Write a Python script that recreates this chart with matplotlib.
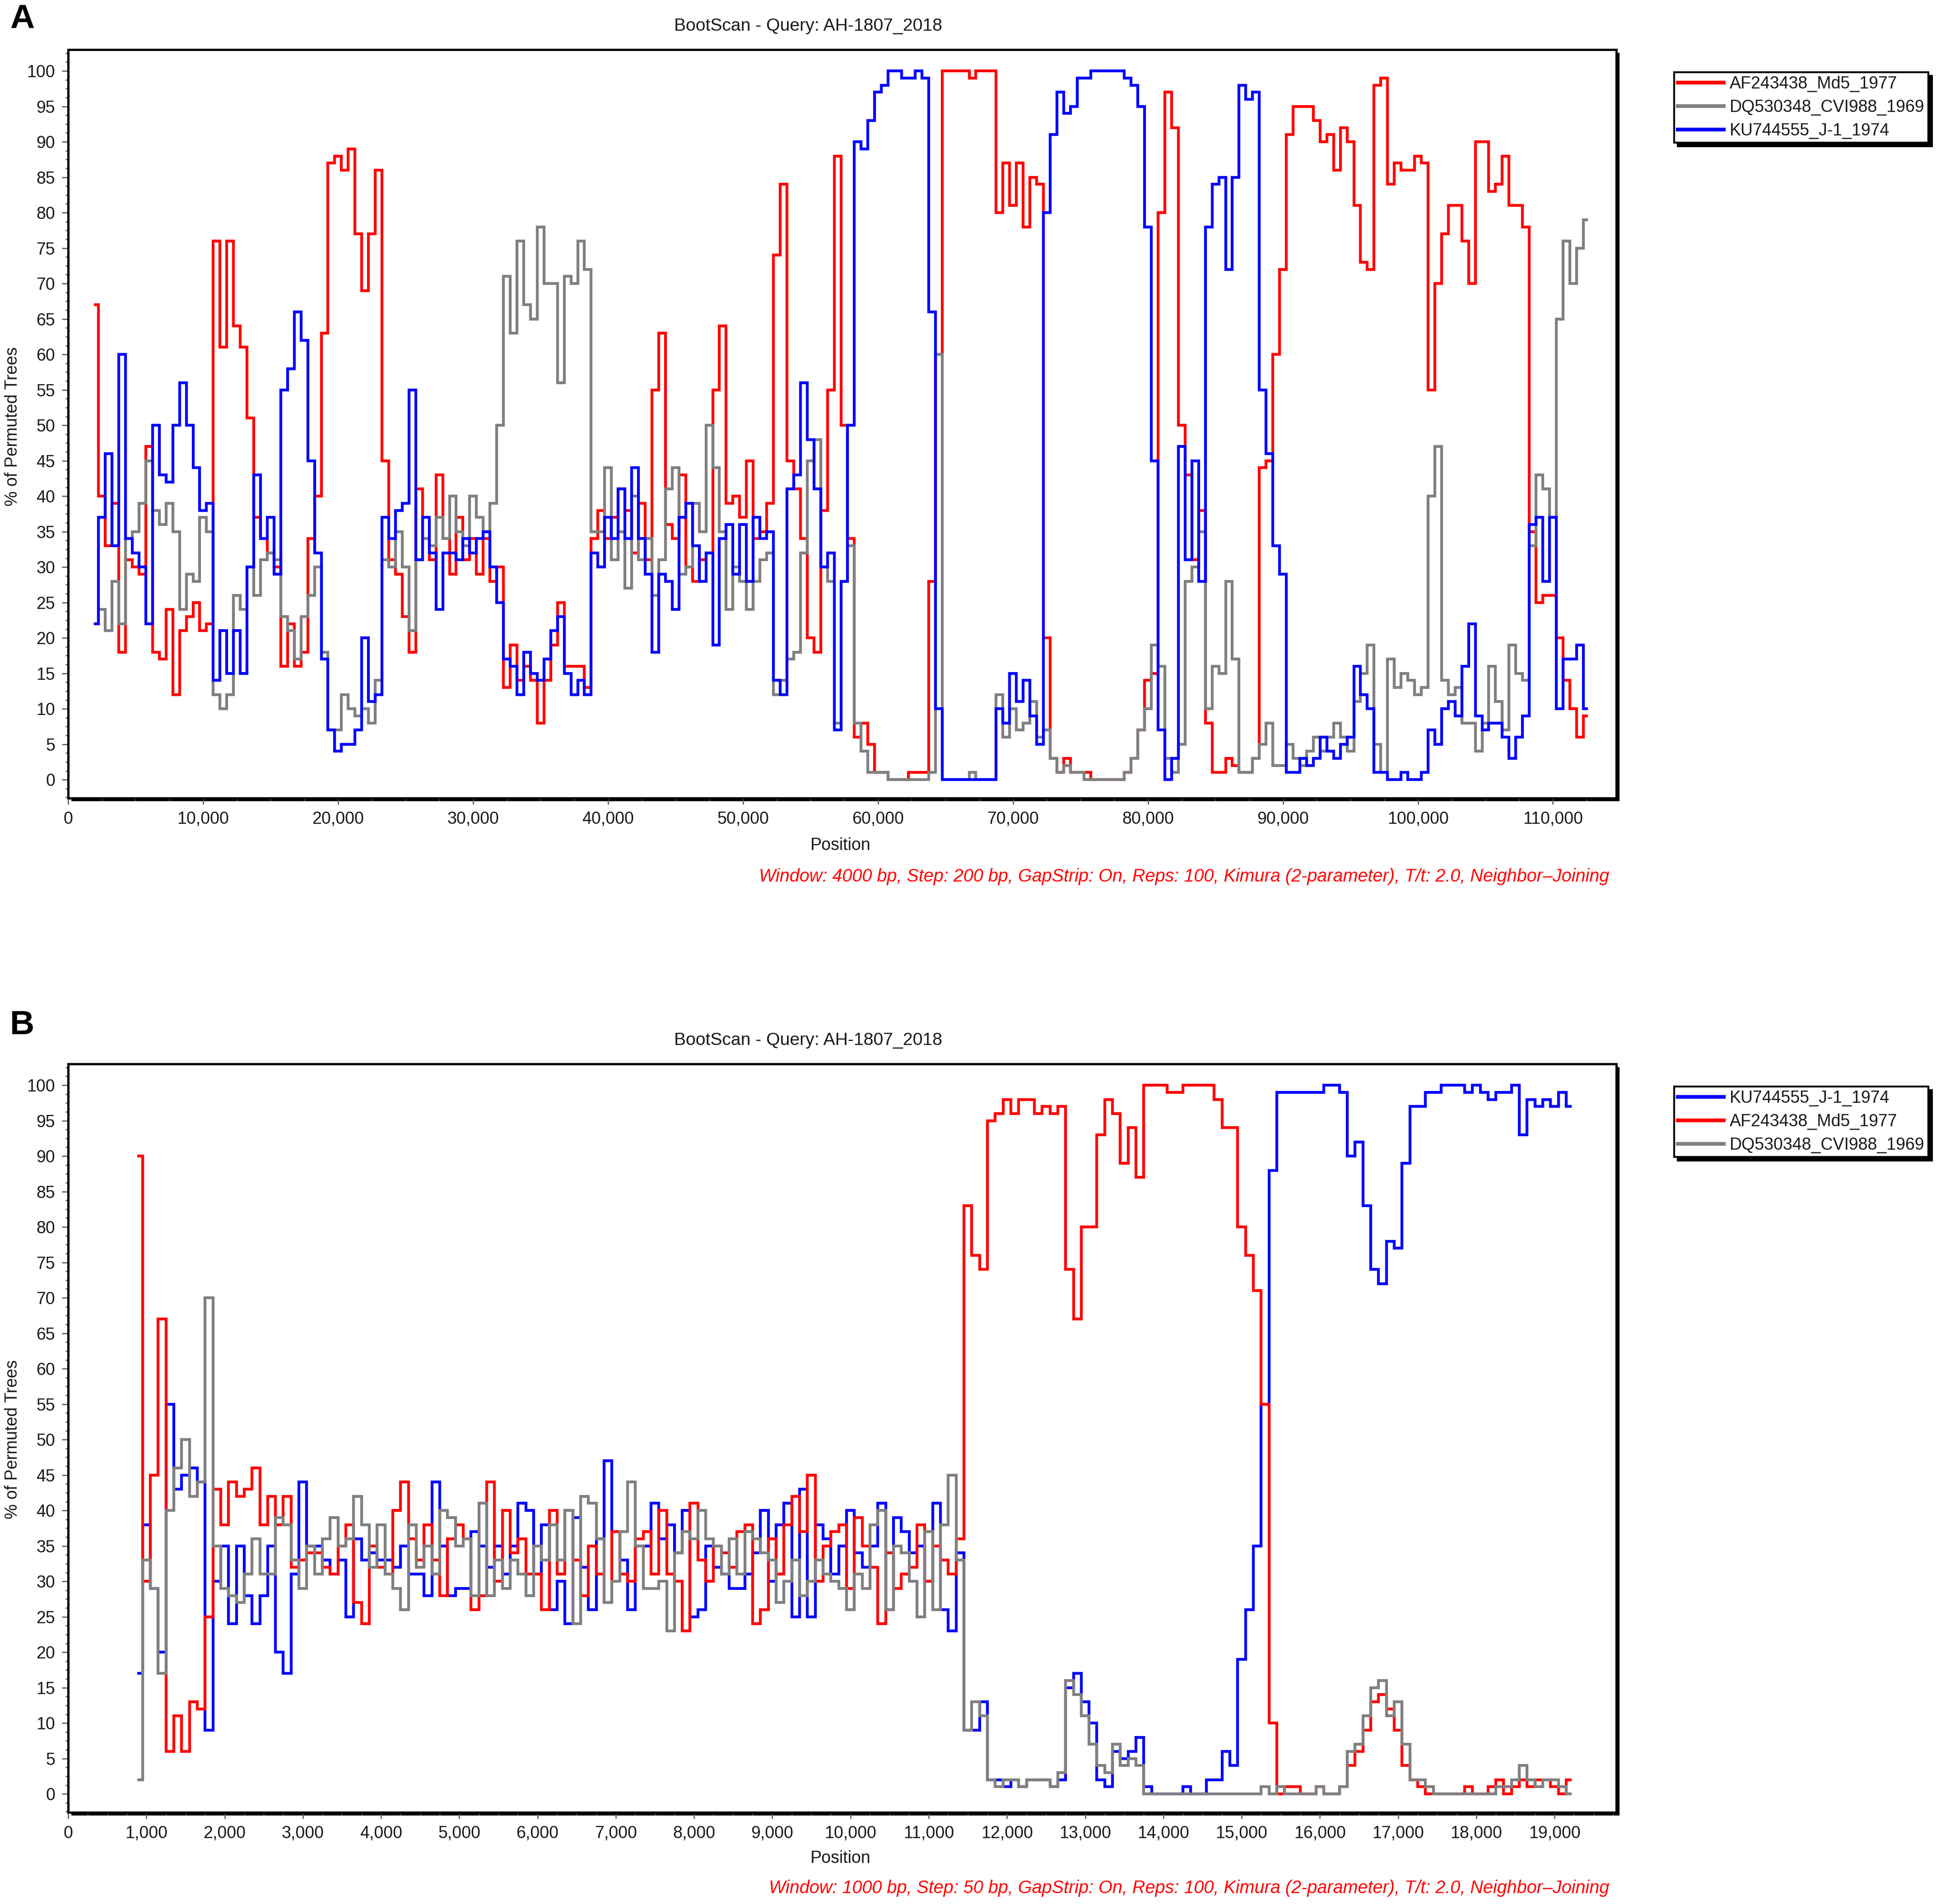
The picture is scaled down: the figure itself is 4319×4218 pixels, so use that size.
import numpy as np
import matplotlib
matplotlib.use("Agg")
import matplotlib.pyplot as plt
from matplotlib.ticker import MultipleLocator, FuncFormatter
from matplotlib.patches import Rectangle

plt.rcParams['font.family'] = ['Liberation Sans', 'DejaVu Sans']

# ---------------- Panel A data (window 4000 bp, positions every 500 bp from 2,000) ----------------
A_START, A_STEP = 2000, 500
a_red = [
    67, 40, 33, 39, 18, 31, 30, 29, 47, 18,
    17, 24, 12, 21, 23, 25, 21, 22, 76, 61,
    76, 64, 61, 51, 37, 34, 32, 30, 16, 22,
    16, 18, 34, 40, 63, 87, 88, 86, 89, 77,
    69, 77, 86, 45, 31, 29, 23, 18, 41, 34,
    31, 43, 34, 29, 37, 31, 34, 29, 34, 28,
    30, 13, 19, 14, 16, 14, 8, 14, 19, 25,
    16, 16, 16, 13, 34, 38, 34, 37, 41, 38,
    32, 39, 31, 55, 63, 36, 34, 43, 30, 28,
    31, 32, 55, 64, 39, 40, 37, 45, 34, 35,
    39, 74, 84, 45, 41, 34, 20, 18, 38, 55,
    88, 50, 34, 6, 8, 5, 1, 1, 0, 0,
    0, 1, 1, 1, 28, 60, 100, 100, 100, 100,
    99, 100, 100, 100, 80, 87, 81, 87, 78, 85,
    84, 20, 3, 1, 3, 1, 1, 1, 0, 0,
    0, 0, 0, 1, 3, 7, 14, 15, 80, 97,
    92, 50, 43, 31, 38, 8, 1, 1, 3, 2,
    1, 1, 3, 44, 45, 60, 72, 91, 95, 95,
    95, 93, 90, 91, 86, 92, 90, 81, 73, 72,
    98, 99, 84, 87, 86, 86, 88, 87, 55, 70,
    77, 81, 81, 76, 70, 90, 90, 83, 84, 88,
    81, 81, 78, 35, 25, 26, 26, 20, 14, 10,
    6, 9,
]
a_blue = [
    22, 37, 46, 33, 60, 34, 32, 30, 22, 50,
    43, 42, 50, 56, 50, 44, 38, 39, 14, 21,
    15, 21, 15, 30, 43, 34, 37, 29, 55, 58,
    66, 62, 45, 32, 17, 7, 4, 5, 5, 7,
    20, 11, 12, 37, 34, 38, 39, 55, 31, 37,
    32, 24, 32, 32, 31, 34, 32, 34, 35, 30,
    25, 17, 16, 12, 18, 15, 14, 17, 21, 23,
    15, 12, 14, 12, 32, 30, 37, 34, 41, 34,
    44, 34, 29, 18, 29, 28, 24, 37, 39, 33,
    28, 32, 19, 34, 36, 29, 36, 28, 37, 34,
    35, 14, 12, 41, 43, 56, 48, 41, 30, 32,
    7, 28, 50, 90, 89, 93, 97, 98, 100, 100,
    99, 99, 100, 99, 66, 10, 0, 0, 0, 0,
    0, 0, 0, 0, 10, 8, 15, 11, 14, 9,
    5, 80, 91, 97, 94, 95, 99, 99, 100, 100,
    100, 100, 100, 99, 98, 95, 78, 45, 7, 0,
    3, 47, 31, 45, 28, 78, 84, 85, 72, 85,
    98, 96, 97, 55, 46, 33, 29, 1, 1, 3,
    2, 3, 6, 4, 3, 5, 6, 16, 12, 10,
    1, 1, 0, 0, 1, 0, 0, 1, 7, 5,
    10, 11, 9, 16, 22, 9, 7, 8, 8, 6,
    3, 6, 9, 36, 37, 28, 37, 10, 17, 17,
    19, 10,
]
a_grey = [
    22, 24, 21, 28, 22, 34, 35, 39, 45, 38,
    36, 39, 35, 24, 29, 28, 37, 35, 12, 10,
    12, 26, 24, 30, 26, 31, 32, 31, 23, 21,
    17, 23, 26, 30, 18, 7, 7, 12, 10, 9,
    10, 8, 14, 31, 30, 35, 30, 21, 31, 34,
    33, 37, 34, 40, 35, 33, 40, 37, 35, 39,
    50, 71, 63, 76, 67, 65, 78, 70, 70, 56,
    71, 70, 76, 72, 35, 35, 44, 31, 35, 27,
    40, 31, 34, 26, 31, 41, 44, 29, 30, 39,
    35, 50, 44, 35, 24, 30, 28, 24, 28, 31,
    32, 12, 14, 17, 18, 32, 45, 48, 30, 28,
    8, 28, 33, 8, 4, 1, 1, 1, 0, 0,
    0, 0, 0, 0, 1, 60, 0, 0, 0, 0,
    1, 0, 0, 0, 12, 6, 10, 7, 8, 11,
    6, 7, 3, 1, 2, 1, 1, 0, 0, 0,
    0, 0, 0, 1, 3, 7, 10, 19, 16, 3,
    1, 5, 28, 30, 35, 10, 16, 15, 28, 17,
    1, 1, 3, 5, 8, 2, 2, 5, 3, 2,
    4, 6, 4, 6, 8, 6, 4, 11, 15, 19,
    5, 1, 17, 13, 15, 14, 12, 13, 40, 47,
    14, 12, 13, 8, 8, 4, 8, 16, 11, 7,
    19, 15, 14, 33, 43, 41, 37, 65, 76, 70,
    75, 79,
]

# ---------------- Panel B data (window 1000 bp, positions every 100 bp from 900) ----------------
B_START, B_STEP = 900, 100
b_red = [
    90, 30, 45, 67, 6, 11, 6, 13, 12, 25,
    43, 38, 44, 42, 43, 46, 38, 42, 38, 42,
    32, 33, 34, 34, 32, 31, 35, 38, 27, 24,
    35, 32, 31, 40, 44, 36, 33, 38, 33, 28,
    36, 38, 36, 26, 28, 44, 30, 40, 34, 36,
    31, 31, 26, 40, 31, 40, 33, 28, 35, 31,
    27, 37, 31, 30, 36, 37, 31, 40, 31, 30,
    23, 41, 33, 30, 35, 34, 32, 37, 38, 24,
    26, 36, 31, 38, 42, 37, 45, 30, 35, 37,
    38, 29, 39, 35, 32, 24, 34, 29, 31, 32,
    38, 30, 35, 33, 31, 36, 83, 76, 74, 95,
    96, 98, 96, 98, 98, 96, 97, 96, 97, 74,
    67, 80, 80, 93, 98, 96, 89, 94, 87, 100,
    100, 100, 99, 99, 100, 100, 100, 100, 98, 94,
    94, 80, 76, 71, 55, 10, 0, 1, 1, 0,
    0, 1, 0, 0, 1, 4, 6, 9, 13, 14,
    12, 9, 4, 2, 1, 0, 0, 0, 0, 0,
    1, 0, 0, 1, 2, 0, 1, 2, 1, 2,
    2, 1, 0, 2,
]
b_blue = [
    17, 38, 29, 20, 55, 43, 45, 46, 44, 9,
    30, 35, 24, 35, 28, 24, 28, 35, 20, 17,
    31, 44, 35, 35, 33, 31, 33, 25, 36, 33,
    34, 33, 33, 32, 35, 31, 31, 28, 44, 35,
    28, 29, 29, 37, 35, 32, 35, 31, 35, 41,
    40, 31, 38, 26, 30, 24, 39, 32, 26, 36,
    47, 37, 33, 26, 35, 35, 41, 36, 38, 34,
    40, 25, 26, 35, 32, 31, 29, 29, 31, 34,
    40, 30, 38, 41, 25, 43, 25, 38, 36, 31,
    35, 40, 34, 32, 35, 41, 26, 39, 37, 34,
    35, 30, 41, 26, 23, 34, 9, 9, 13, 2,
    2, 1, 2, 1, 2, 2, 2, 1, 2, 15,
    17, 13, 10, 2, 1, 6, 5, 6, 8, 1,
    0, 0, 0, 0, 1, 0, 0, 2, 2, 6,
    4, 19, 26, 35, 55, 88, 99, 99, 99, 99,
    99, 99, 100, 100, 99, 90, 92, 83, 74, 72,
    78, 77, 89, 97, 97, 99, 99, 100, 100, 100,
    99, 100, 99, 98, 99, 99, 100, 93, 98, 97,
    98, 97, 99, 97,
]
b_grey = [
    2, 33, 29, 17, 40, 46, 50, 42, 44, 70,
    35, 29, 28, 27, 31, 36, 31, 31, 39, 38,
    33, 29, 35, 31, 36, 39, 35, 36, 42, 38,
    32, 38, 31, 29, 26, 38, 32, 35, 31, 40,
    39, 35, 36, 28, 41, 28, 33, 29, 33, 31,
    28, 35, 33, 38, 33, 40, 24, 42, 41, 36,
    27, 30, 37, 44, 35, 29, 29, 30, 23, 34,
    37, 36, 40, 36, 35, 31, 36, 31, 37, 36,
    34, 33, 27, 30, 33, 28, 30, 33, 31, 30,
    29, 26, 31, 29, 38, 40, 26, 35, 34, 30,
    25, 37, 26, 38, 45, 33, 9, 13, 11, 2,
    1, 2, 2, 1, 2, 2, 2, 1, 3, 16,
    14, 11, 7, 4, 3, 7, 4, 5, 4, 0,
    0, 0, 0, 0, 0, 0, 0, 0, 0, 0,
    0, 0, 0, 0, 1, 0, 1, 0, 0, 0,
    0, 1, 0, 0, 1, 6, 7, 11, 15, 16,
    11, 13, 7, 2, 2, 1, 0, 0, 0, 0,
    0, 0, 0, 0, 1, 1, 2, 4, 2, 1,
    2, 2, 1, 0,
]

NAME_MD5 = "AF243438_Md5_1977"
NAME_CVI = "DQ530348_CVI988_1969"
NAME_J1 = "KU744555_J-1_1974"
TITLE = "BootScan - Query: AH-1807_2018"
NOTE_A = "Window: 4000 bp, Step: 200 bp, GapStrip: On, Reps: 100, Kimura (2-parameter), T/t: 2.0, Neighbor\u2013Joining"
NOTE_B = "Window: 1000 bp, Step: 50 bp, GapStrip: On, Reps: 100, Kimura (2-parameter), T/t: 2.0, Neighbor\u2013Joining"

RED, GREY, BLUE = "#FF0000", "#808080", "#0000FF"

W, H = 4319, 4218
DPI = 300
fig = plt.figure(figsize=(W / DPI, H / DPI), dpi=DPI, facecolor="white")

def fx(px):
    return px / W

def fy(py):
    return 1 - py / H

FS = 9
TXT = "#1a1a1a"

def make_panel(top_px, bottom_px, xmax, xmajor, xminor, series, note, letter, letter_base_px,
               title_px, pos_px, note_px, ylab_px, legend_top_px):
    left_px, right_px = 151, 3580
    rect = [fx(left_px), fy(bottom_px), fx(right_px) - fx(left_px), fy(top_px) - fy(bottom_px)]
    # shadow behind the frame
    sh = Rectangle((rect[0] + fx(7), rect[1] - 7 / H), rect[2], rect[3],
                   transform=fig.transFigure, facecolor="black", edgecolor="none", zorder=0)
    fig.add_artist(sh)
    ax = fig.add_axes(rect, zorder=1)
    ax.set_facecolor("white")
    handles = []
    for xs, ys, color, label in series:
        ln, = ax.plot(xs, ys, color=color, lw=1.5, drawstyle="steps-mid", label=label,
                      solid_joinstyle="miter")
        handles.append(ln)
    ax.set_xlim(0, xmax)
    ax.set_ylim(-2.6, 103)
    ax.xaxis.set_major_locator(MultipleLocator(xmajor))
    ax.xaxis.set_minor_locator(MultipleLocator(xminor))
    ax.yaxis.set_major_locator(MultipleLocator(5))
    ax.yaxis.set_minor_locator(MultipleLocator(1.25))
    ax.xaxis.set_major_formatter(FuncFormatter(lambda v, p: "{:,}".format(int(round(v)))))
    ax.yaxis.set_major_formatter(FuncFormatter(lambda v, p: "%d" % int(round(v))))
    ax.tick_params(axis="both", which="major", direction="out", length=3.4, width=0.6,
                   color="#555555", labelsize=FS, labelcolor=TXT, pad=3.5)
    ax.tick_params(axis="both", which="minor", direction="out", length=1.5, width=0.6,
                   color="#555555")
    for s in ax.spines.values():
        s.set_linewidth(1.2)
        s.set_color("black")
    # texts
    fig.text(fx(1790), fy(title_px), TITLE, ha="center", va="center", fontsize=9.4, color=TXT)
    fig.text(fx(1862), fy(pos_px), "Position", ha="center", va="center", fontsize=FS, color=TXT)
    fig.text(fx(3564), fy(note_px), note, ha="right", va="center", fontsize=9.5,
             color=RED, style="italic")
    fig.text(fx(28), fy(ylab_px), "% of Permuted Trees", ha="center", va="center",
             rotation=90, fontsize=FS, color=TXT)
    fig.text(fx(22), fy(letter_base_px), letter, ha="left", va="baseline", fontsize=18,
             fontweight="bold", color="black")
    leg = fig.legend(handles=handles, loc="upper left",
                     bbox_to_anchor=(fx(3708), fy(legend_top_px)), bbox_transform=fig.transFigure,
                     fontsize=FS, frameon=True, fancybox=False, edgecolor="black",
                     shadow={"color": "black", "alpha": 1.0},
                     handlelength=2.7, handletextpad=0.35, borderpad=0.22, labelspacing=0.42,
                     borderaxespad=0)
    leg.get_frame().set_linewidth(1.0)
    for t in leg.get_texts():
        t.set_color(TXT)
    for l in leg.get_lines():
        l.set_linewidth(2.0)
    return ax

a_x = np.arange(len(a_red)) * A_STEP + A_START
b_x = np.arange(len(b_red)) * B_STEP + B_START

make_panel(110, 1768, 114700, 10000, 2500,
           [(a_x, a_red, RED, NAME_MD5), (a_x, a_grey, GREY, NAME_CVI), (a_x, a_blue, BLUE, NAME_J1)],
           NOTE_A, "A", 62, 58, 1873, 1942, 945, 160)

make_panel(2357, 4015, 19790, 1000, 250,
           [(b_x, b_blue, BLUE, NAME_J1), (b_x, b_red, RED, NAME_MD5), (b_x, b_grey, GREY, NAME_CVI)],
           NOTE_B, "B", 2291, 2305, 4117, 4183, 3189, 2407)

fig.savefig("out.png", dpi=DPI, facecolor="white")
